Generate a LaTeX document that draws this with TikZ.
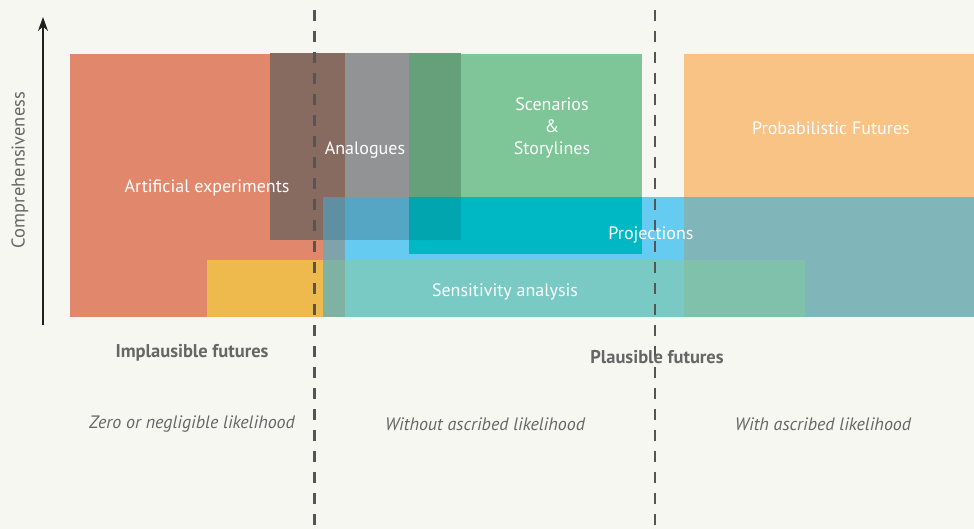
\documentclass[tikz,border=0pt]{standalone}
\usepackage{fontspec}
\setmainfont{PT Sans}
\usetikzlibrary{arrows.meta}
\definecolor{bg}{HTML}{F7F7F2}
\definecolor{cred}{HTML}{E0876C}
\definecolor{cbrown}{HTML}{876B60}
\definecolor{cyellow}{HTML}{EEBA4E}
\definecolor{cgray}{HTML}{929394}
\definecolor{cdgreen}{HTML}{66A07A}
\definecolor{cgreen}{HTML}{7EC697}
\definecolor{corange}{HTML}{FAC386}
\definecolor{pRA}{HTML}{5F8FA0}
\definecolor{pGA}{HTML}{55A5C5}
\definecolor{pGAD}{HTML}{00A5B0}
\definecolor{pGr}{HTML}{00B8C4}
\definecolor{pR}{HTML}{7FA3AB}
\definecolor{pL}{HTML}{66CBF0}
\definecolor{pO}{HTML}{80B5BA}
\definecolor{sR}{HTML}{7FB2A3}
\definecolor{sP}{HTML}{79CAC4}
\definecolor{sO}{HTML}{80C1AB}
\definecolor{txt}{HTML}{666666}
\definecolor{dashcol}{HTML}{555555}
\begin{document}
\begin{tikzpicture}[x=1pt,y=-1pt,
  boxlabel/.style={text=white,font=\fontsize{18}{22}\selectfont,align=center,inner sep=0pt,yshift=-2pt},
  axlabel/.style={text=txt,font=\fontsize{18.5}{20}\selectfont\bfseries,inner sep=0pt,yshift=-1pt},
  likelabel/.style={text=txt,font=\fontsize{18}{20}\selectfont\itshape,inner sep=0pt,yshift=-1pt},
  divider/.style={color=dashcol,line width=2.6pt,dash pattern=on 11pt off 10pt}]
\fill[bg] (0,0) rectangle (974,529);
\useasboundingbox (0,0) rectangle (974,529);
% base boxes
\fill[cred] (70,54) rectangle (345,317);
\fill[cbrown] (270,53) rectangle (345,240);
\fill[cyellow] (207,260) rectangle (323,317);
\fill[cgray] (345,53) rectangle (409,197);
\fill[cdgreen] (409,53) rectangle (461,197);
\fill[cgreen] (461,54) rectangle (642,197);
\fill[corange] (684,54) rectangle (974,197);
% projections
\fill[pL] (323,197) rectangle (684,260);
\fill[pRA] (323,197) rectangle (345,240);
\fill[pGA] (345,197) rectangle (409,240);
\fill[pGr] (409,197) rectangle (642,254);
\fill[pGAD] (409,197) rectangle (461,240);
\fill[pR] (323,240) rectangle (345,260);
\fill[pO] (684,197) rectangle (974,317);
% sensitivity
\fill[sR] (323,260) rectangle (345,317);
\fill[sP] (345,260) rectangle (684,317);
\fill[sO] (684,260) rectangle (805,317);
% dividers
\coordinate (d1t) at (314.5,10);
\coordinate (d1b) at (314.5,529);
\coordinate (d2t) at (655,10);
\coordinate (d2b) at (655,529);
\draw[divider] (d1t) -- (d1b);
\draw[divider] (d2t) -- (d2b);
% axis
\coordinate (ab) at (43,325);
\coordinate (at) at (43,17);
\draw[line width=1.7pt,color=black!88,-{Stealth[length=14pt,width=10pt]}] (ab) -- (at);
\node[rotate=90,text=txt,font=\fontsize{18.5}{20}\selectfont,inner sep=0pt] (comp) at (20,170) {Comprehensiveness};
% box labels
\node[boxlabel] (art) at (207,186) {Artificial experiments};
\node[boxlabel] (ana) at (365,148) {Analogues};
\node[boxlabel,align=center] (scen) at (552,126) {Scenarios\\\&\\Storylines};
\node[boxlabel] (prob) at (831,126) {Probabilistic Futures};
\node[boxlabel] (proj) at (651,233) {Projections};
\node[boxlabel] (sens) at (505,290) {Sensitivity analysis};
% bottom labels
\node[axlabel] (impl) at (192,352) {Implausible futures};
\node[axlabel] (plau) at (657,356) {Plausible futures};
\node[likelabel] (zero) at (192,423) {Zero or negligible likelihood};
\node[likelabel] (wo) at (485,423) {Without ascribed likelihood};
\node[likelabel] (wi) at (823,423) {With ascribed likelihood};
\end{tikzpicture}
\end{document}
